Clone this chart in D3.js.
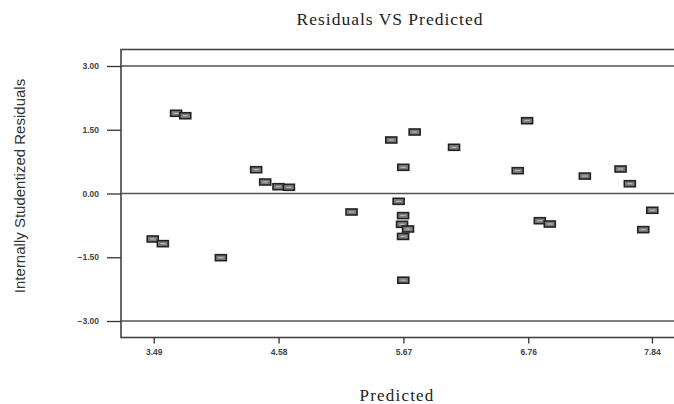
<!DOCTYPE html>
<html>
<head>
<meta charset="utf-8">
<script src="https://cdn.jsdelivr.net/npm/d3@7"></script>
<style>
  body { margin: 0; background: #fff; }
  .tick text { font-family: "Liberation Sans", Arial, sans-serif; font-size: 8.5px; font-weight: bold; fill: #444; }
  .tick line { stroke: #333; stroke-width: 1.3; }
  .domain { display: none; }
</style>
</head>
<body>
<div id="chart"></div>
<script>
// predicted values (x)
var predicted = [3.685, 3.765, 4.384, 4.463, 4.579, 4.67, 3.481, 3.569, 4.076,
                 5.768, 5.564, 5.669, 5.628, 5.217, 5.667, 5.658, 5.71, 5.667, 5.669,
                 6.75, 6.112, 6.668, 6.861, 6.948,
                 7.254, 7.566, 7.647, 7.843, 7.764];
// internally studentized residuals (y)
var residuals = [1.887, 1.83, 0.56, 0.27, 0.16, 0.146, -1.07, -1.18, -1.51,
                 1.447, 1.259, 0.616, -0.184, -0.435, -0.52, -0.725, -0.835, -1.01, -2.04,
                 1.713, 1.087, 0.537, -0.64, -0.718,
                 0.41, 0.576, 0.23, -0.395, -0.85];
var xTicks = [3.49, 4.58, 5.67, 6.76, 7.84];
var yTicks = [3.00, 1.50, 0.00, -1.50, -3.00];
var refLines = [3, 0, -3];

var width = 674, height = 404;
var margin = {top: 49.5, right: -2, bottom: 66.5, left: 121};

var svg = d3.select("#chart").append("svg")
    .attr("width", width)
    .attr("height", height);

var xScale = d3.scaleLinear().domain([3.204, 8.05]).range([margin.left, width - margin.right]);
var yScale = d3.scaleLinear().domain([-3.388, 3.388]).range([height - margin.bottom, margin.top]);

// title and axis labels
svg.append("text")
    .attr("x", 390).attr("y", 25)
    .attr("text-anchor", "middle")
    .style("font-family", "'Liberation Serif', 'Times New Roman', serif")
    .style("font-size", "17.5px")
    .style("letter-spacing", "1px")
    .style("fill", "#222")
    .text("Residuals VS Predicted");

svg.append("text")
    .attr("x", 397).attr("y", 401)
    .attr("text-anchor", "middle")
    .style("font-family", "'Liberation Serif', 'Times New Roman', serif")
    .style("font-size", "17px")
    .style("letter-spacing", "1.2px")
    .style("fill", "#222")
    .text("Predicted");

svg.append("text")
    .attr("transform", "translate(25,186) rotate(-90)")
    .attr("text-anchor", "middle")
    .style("font-family", "'Liberation Sans', Arial, sans-serif")
    .style("font-size", "15px")
    .style("fill", "#333")
    .text("Internally Studentized Residuals");

// horizontal reference lines at -3, 0, 3
svg.selectAll("line.ref").data(refLines).enter()
    .append("line")
    .attr("class", "ref")
    .attr("x1", margin.left)
    .attr("x2", width)
    .attr("y1", function(d) { return yScale(d); })
    .attr("y2", function(d) { return yScale(d); })
    .style("stroke", "#555")
    .style("stroke-width", 1.3);

// plot frame (right edge runs off the picture)
svg.append("rect")
    .attr("x", margin.left)
    .attr("y", margin.top)
    .attr("width", width + 5 - margin.left)
    .attr("height", height - margin.bottom - margin.top)
    .style("fill", "none")
    .style("stroke", "#444")
    .style("stroke-width", 1.6);

// axes
svg.append("g")
    .attr("transform", `translate(${margin.left},0)`)
    .call(d3.axisLeft(yScale).tickValues(yTicks).tickFormat(d3.format(".2f")).tickSize(14).tickPadding(8));

svg.append("g")
    .attr("transform", `translate(0,${height - margin.bottom})`)
    .call(d3.axisBottom(xScale).tickValues(xTicks).tickFormat(d3.format(".2f")).tickSize(6).tickPadding(5));

// residual markers: small boxes
var boxW = 11, boxH = 6;
var pts = predicted.map(function(p, i) { return {x: p, y: residuals[i]}; });
var g = svg.append("g");
g.selectAll("rect.pt").data(pts).enter()
    .append("rect")
    .attr("class", "pt")
    .attr("x", function(d) { return xScale(d.x) - boxW / 2; })
    .attr("y", function(d) { return yScale(d.y) - boxH / 2; })
    .attr("width", boxW)
    .attr("height", boxH)
    .style("fill", "#7c7c7c")
    .style("stroke", "#222")
    .style("stroke-width", 1.6);
g.selectAll("line.pt").data(pts).enter()
    .append("line")
    .attr("class", "pt")
    .attr("x1", function(d) { return xScale(d.x) - 2.5; })
    .attr("x2", function(d) { return xScale(d.x) + 2.5; })
    .attr("y1", function(d) { return yScale(d.y); })
    .attr("y2", function(d) { return yScale(d.y); })
    .style("stroke", "#c0c0c0")
    .style("stroke-width", 1);
</script>
</body>
</html>
